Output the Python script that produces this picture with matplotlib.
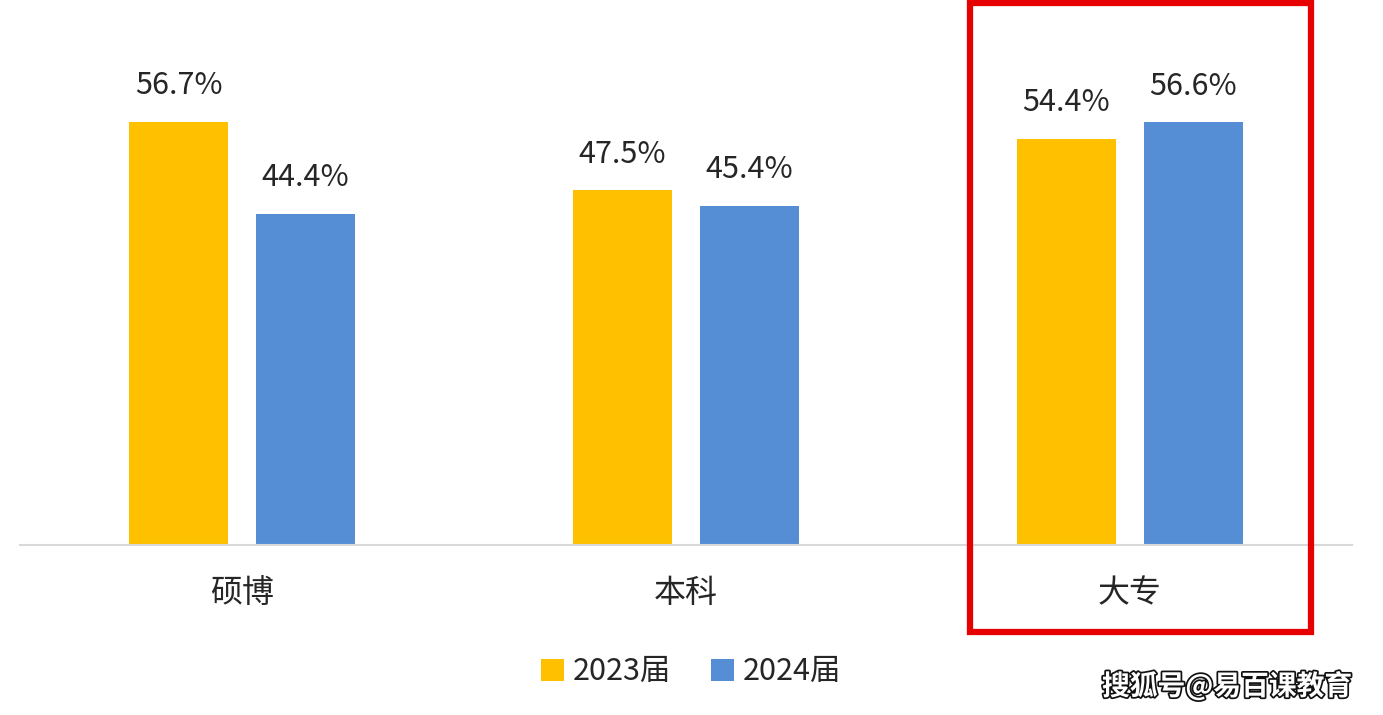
import matplotlib
matplotlib.use('Agg')
import matplotlib.pyplot as plt
import matplotlib.patheffects as pe
from matplotlib.patches import Rectangle
import numpy as np

plt.rcParams['font.family'] = ['Noto Sans CJK SC', 'DejaVu Sans']

# data
categories = ['硕博', '本科', '大专']
series_names = ['2023届', '2024届']
values_2023 = [56.7, 47.5, 54.4]
values_2024 = [44.4, 45.4, 56.6]
colors = ['#FFC000', '#558ED5']
text_color = '#262626'

W, H = 1383, 715
fig = plt.figure(figsize=(W / 100, H / 100), dpi=100)
ax = fig.add_axes([20 / W, (H - 545) / H, 1332 / W, 545 / H])

x = np.arange(len(categories))
width = 0.223
offset = 0.143
for vals, dx, col, name in [(values_2023, -offset, colors[0], series_names[0]),
                             (values_2024, offset, colors[1], series_names[1])]:
    bars = ax.bar(x + dx, vals, width, color=col, label=name, zorder=2)
    for b, v in zip(bars, vals):
        ax.annotate(f'{v:.1f}%', (b.get_x() + b.get_width() / 2, v),
                    xytext=(0, 20), textcoords='offset points',
                    ha='center', va='baseline', fontsize=22, color=text_color)

ax.set_xlim(-0.5, 2.5)
ax.set_ylim(0, 73)
ax.set_yticks([])
for s in ['top', 'right', 'left']:
    ax.spines[s].set_visible(False)
ax.spines['bottom'].set_color('#D9D9D9')
ax.spines['bottom'].set_linewidth(1.5)
ax.set_xticks(x)
ax.set_xticklabels(categories, fontsize=23, color=text_color)
ax.tick_params(axis='x', length=0, pad=23)

leg = fig.legend(loc='center', bbox_to_anchor=(691 / W, 1 - 672 / H), ncol=2,
                 frameon=False, fontsize=22, handlelength=0.75, handleheight=0.75,
                 handletextpad=0.3, columnspacing=1.3)
for t in leg.get_texts():
    t.set_color(text_color)

# red highlight box around the last group
fig.add_artist(Rectangle((970 / W, 1 - 632 / H), (1311 - 970) / W, (632 - 3) / H,
                         transform=fig.transFigure, fill=False,
                         edgecolor='#E60000', linewidth=4.5))

# watermark
fig.text(1352 / W, 1 - 686 / H, '搜狐号@易百课教育', ha='right', va='center',
         fontsize=20, color='white', fontweight='bold',
         path_effects=[pe.withStroke(linewidth=2.5, foreground='#111111')])

fig.savefig('out.png', dpi=100)
